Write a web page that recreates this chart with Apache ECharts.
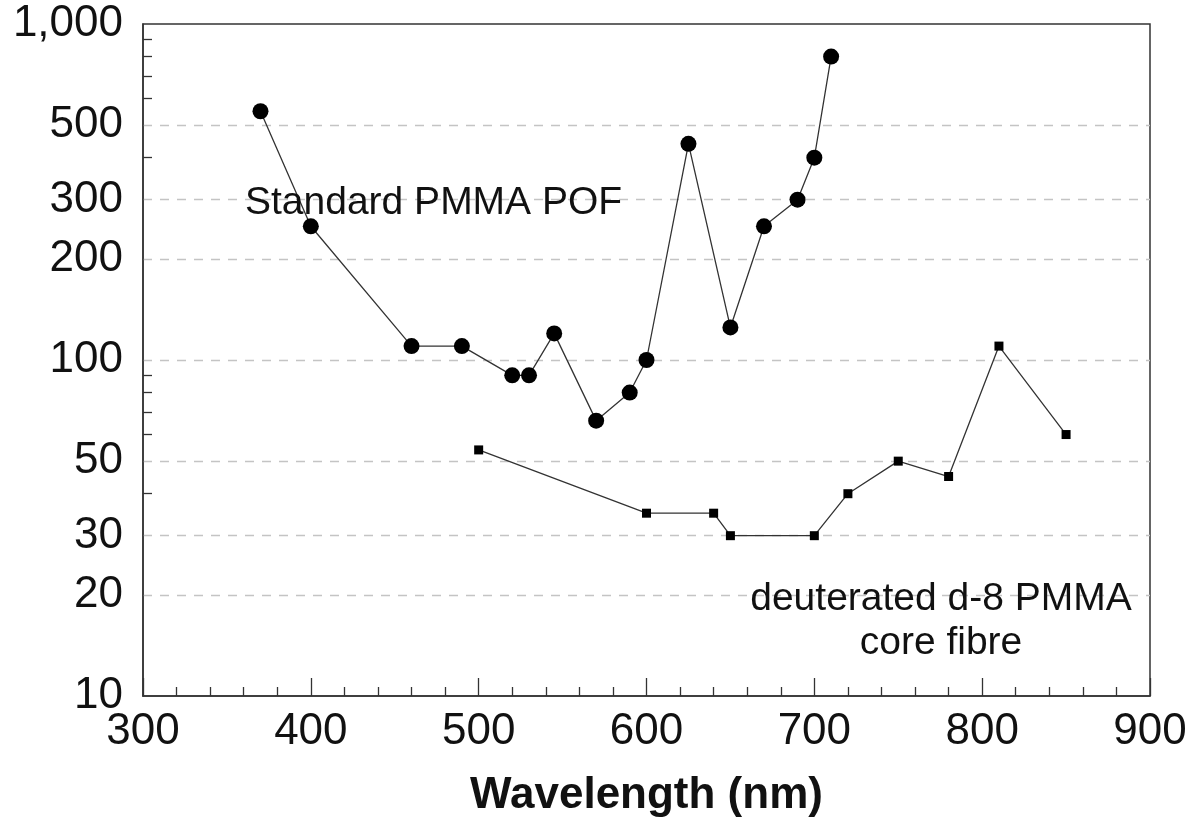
<!DOCTYPE html>
<html>
<head>
<meta charset="utf-8">
<script src="https://cdn.jsdelivr.net/npm/echarts@6/dist/echarts.min.js"></script>
<style>
    html, body { margin: 0; padding: 0; background: #fff; }
    #chart { width: 1191px; height: 821px; }
</style>
</head>
<body>
<div id="chart"></div>
<script>
    // standard PMMA POF (circles)
    var pofWave = [370, 400, 460, 490, 520, 530, 545, 570, 590, 600, 625, 650, 670, 690, 700, 710];
    var pofLoss = [550, 250, 110, 110, 90, 90, 120, 66, 80, 100, 440, 125, 250, 300, 400, 800];

    // deuterated d-8 PMMA core fibre (squares)
    var dWave = [500, 600, 640, 650, 700, 720, 750, 780, 810, 850];
    var dLoss = [54, 35, 35, 30, 30, 40, 50, 45, 110, 60];

    var yLabelTicks = [10, 20, 30, 50, 100, 200, 300, 500, 1000];
    var yGridTicks = [20, 30, 50, 100, 200, 300, 500];
    var yMinorTicks = [40, 60, 70, 80, 90, 400, 600, 700, 800, 900];

    var font = "'Liberation Sans', Arial, sans-serif";

    function pairs(xs, ys) {
        return xs.map(function (x, i) { return [x, ys[i]]; });
    }

    var myChart = echarts.init(document.getElementById('chart'));

    var option = {
        animation: false,
        backgroundColor: '#fff',
        grid: {
            left: 143,
            right: 41,
            top: 24,
            bottom: 125,
            outerBoundsMode: 'none',
            show: true,
            borderColor: '#333',
            borderWidth: 1.5,
            backgroundColor: 'transparent'
        },
        xAxis: {
            type: 'value',
            min: 300,
            max: 900,
            interval: 100,
            name: 'Wavelength (nm)',
            nameLocation: 'middle',
            nameGap: 78,
            nameTextStyle: {
                fontFamily: font,
                fontSize: 44,
                fontWeight: 'bold',
                color: '#111'
            },
            axisLine: { show: true, lineStyle: { color: '#333', width: 1.5 } },
            axisTick: { show: true, inside: true, length: 18, lineStyle: { color: '#333', width: 1.3 } },
            minorTick: { show: true, splitNumber: 5, length: 9, lineStyle: { color: '#333', width: 1.3 } },
            axisLabel: {
                margin: 14,
                fontFamily: font,
                fontSize: 44,
                color: '#111'
            },
            splitLine: { show: false }
        },
        yAxis: [
            {
                type: 'log',
                logBase: 10,
                min: 10,
                max: 1000,
                position: 'left',
                axisLine: { show: true, lineStyle: { color: '#333', width: 1.5 } },
                axisTick: { show: false, customValues: yGridTicks },
                axisLabel: {
                    customValues: yLabelTicks,
                    margin: 20,
                    fontFamily: font,
                    fontSize: 44,
                    color: '#111',
                    formatter: function (v) {
                        return Math.round(v).toLocaleString('en-US');
                    }
                },
                splitLine: {
                    show: true,
                    lineStyle: { color: '#c4c4c4', type: [9, 8], width: 1.3 }
                }
            },
            {
                type: 'log',
                logBase: 10,
                min: 10,
                max: 1000,
                position: 'left',
                axisLine: { show: false },
                axisTick: {
                    show: true,
                    inside: true,
                    length: 9,
                    customValues: yMinorTicks,
                    lineStyle: { color: '#333', width: 1.3 }
                },
                axisLabel: { show: false },
                splitLine: { show: false }
            }
        ],
        graphic: [
            {
                type: 'text',
                left: 245,
                top: 184,
                style: {
                    text: 'Standard PMMA POF',
                    font: '39px ' + font,
                    fill: '#111'
                },
                z: 100
            },
            {
                type: 'text',
                x: 941,
                y: 621,
                style: {
                    text: 'deuterated d-8 PMMA\ncore fibre',
                    font: '39px ' + font,
                    fill: '#111',
                    align: 'center',
                    verticalAlign: 'middle',
                    lineHeight: 44
                },
                z: 100
            }
        ],
        series: [
            {
                name: 'Standard PMMA POF',
                type: 'line',
                yAxisIndex: 0,
                data: pairs(pofWave, pofLoss),
                symbol: 'circle',
                symbolSize: 16,
                itemStyle: { color: '#000' },
                lineStyle: { color: '#333', width: 1.3 },
                z: 5
            },
            {
                name: 'deuterated d-8 PMMA core fibre',
                type: 'line',
                yAxisIndex: 0,
                data: pairs(dWave, dLoss),
                symbol: 'rect',
                symbolSize: 9,
                itemStyle: { color: '#000' },
                lineStyle: { color: '#333', width: 1.3 },
                z: 5
            }
        ]
    };

    myChart.setOption(option);
    window.addEventListener('resize', myChart.resize);
</script>
</body>
</html>
